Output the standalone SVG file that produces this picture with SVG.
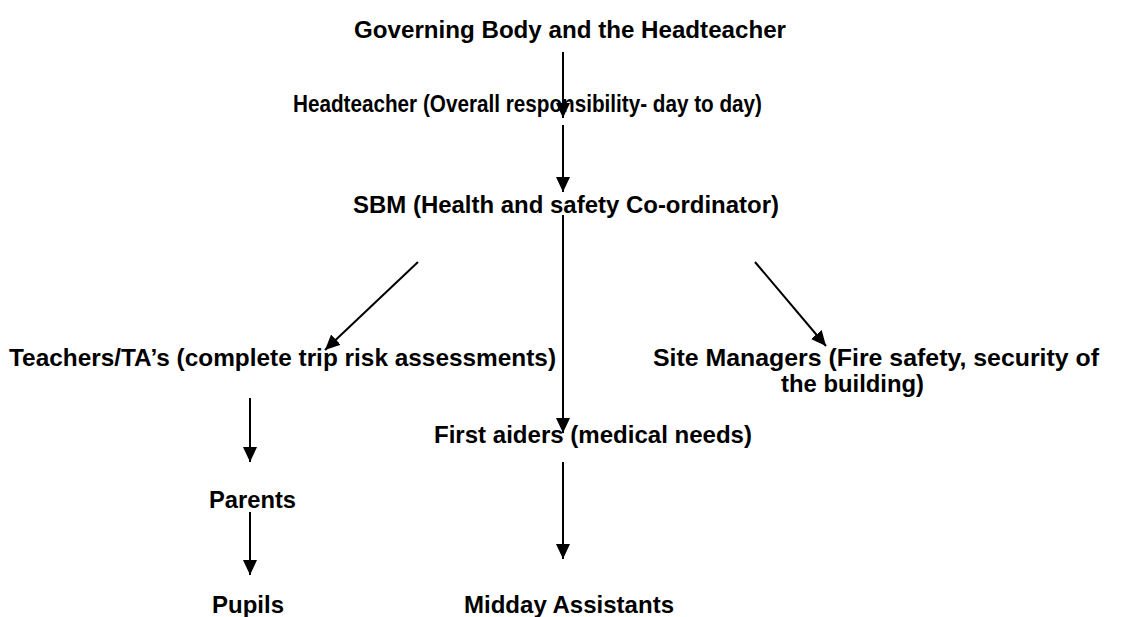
<svg xmlns="http://www.w3.org/2000/svg" width="1121" height="617" viewBox="0 0 1121 617">
<style>
.t{font-family:"Liberation Sans Narrow","Liberation Sans",Arial,sans-serif;font-weight:bold;font-size:24px;fill:#000;text-anchor:start}
.c{stroke:#000;stroke-width:2;fill:none;marker-end:url(#ah)}
</style>
<defs>
<marker id="ah" markerUnits="userSpaceOnUse" markerWidth="16" markerHeight="16" refX="15" refY="7" orient="auto">
<path d="M0,0 L15,7 L0,14 Z" fill="#000"/>
</marker>
</defs>
<rect width="1121" height="617" fill="#fff"/>
<g id="connectors">
<line class="c" x1="563" y1="52" x2="563" y2="118"/>
<line class="c" x1="563" y1="125" x2="563" y2="192"/>
<line class="c" x1="563" y1="215" x2="563" y2="433"/>
<line class="c" x1="418" y1="262" x2="325" y2="350"/>
<line class="c" x1="755" y1="262" x2="826" y2="346"/>
<line class="c" x1="250" y1="398" x2="250" y2="462"/>
<line class="c" x1="250" y1="512" x2="250" y2="575"/>
<line class="c" x1="563" y1="462" x2="563" y2="559"/>
</g>
<g id="governing"><text class="t" x="354" y="38" textLength="432" lengthAdjust="spacingAndGlyphs">Governing Body and the Headteacher</text></g>
<g id="headteacher"><text class="t" x="293" y="112" textLength="469" lengthAdjust="spacingAndGlyphs">Headteacher (Overall responsibility- day to day)</text></g>
<g id="sbm"><text class="t" x="353" y="213" textLength="426" lengthAdjust="spacingAndGlyphs">SBM (Health and safety Co-ordinator)</text></g>
<g id="teachers"><text class="t" x="9" y="366" textLength="547" lengthAdjust="spacingAndGlyphs">Teachers/TA’s (complete trip risk assessments)</text></g>
<g id="site-managers"><text class="t" x="653" y="366" textLength="446" lengthAdjust="spacingAndGlyphs">Site Managers (Fire safety, security of</text><text class="t" x="781" y="392" textLength="143" lengthAdjust="spacingAndGlyphs">the building)</text></g>
<g id="first-aiders"><text class="t" x="434" y="443" textLength="318" lengthAdjust="spacingAndGlyphs">First aiders (medical needs)</text></g>
<g id="parents"><text class="t" x="209" y="508" textLength="87" lengthAdjust="spacingAndGlyphs">Parents</text></g>
<g id="pupils"><text class="t" x="212" y="613" textLength="72" lengthAdjust="spacingAndGlyphs">Pupils</text></g>
<g id="midday"><text class="t" x="464" y="613" textLength="210" lengthAdjust="spacingAndGlyphs">Midday Assistants</text></g>
</svg>
